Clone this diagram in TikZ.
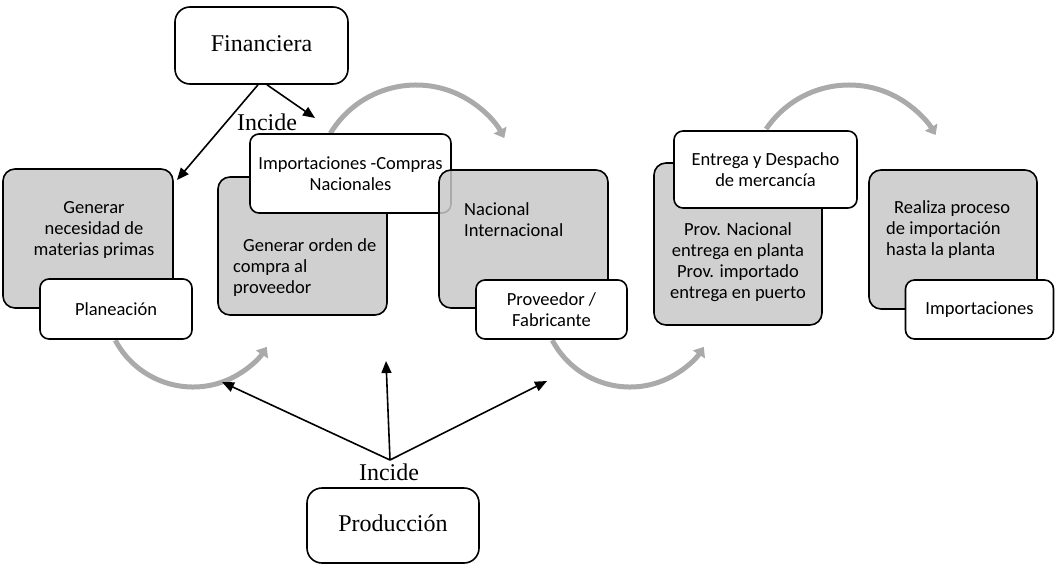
\documentclass[tikz,border=0pt]{standalone}
\usepackage{fontspec}
\setmainfont{Liberation Serif}
\newfontfamily\boxfnt{Carlito}
\usetikzlibrary{arrows.meta}
\definecolor{boxgray}{RGB}{200,200,200}
\definecolor{arcgray}{RGB}{170,170,170}
\newcommand\boxtext{\boxfnt\fontsize{18.5}{21}\selectfont}
\newcommand\seriftext{\fontsize{24}{28}\selectfont}
\tikzset{
  box/.style={draw=black, line width=1.6pt, inner sep=0pt, rounded corners=9pt},
  graybox/.style={box, fill=boxgray, fill opacity=0.85, rounded corners=12pt},
  whitebox/.style={box, fill=white, font=\boxtext, align=center},
  serifbox/.style={box, fill=white, rounded corners=15pt, font=\seriftext},
  btext/.style={font=\boxtext, inner sep=0pt},
  incide/.style={font=\seriftext, inner sep=0pt},
  blk/.style={line width=1.6pt, -{Triangle[length=12pt,width=10pt]}},
  garc/.style={line width=5pt, draw=arcgray, -{Triangle[length=9pt,width=14pt]}},
}
\begin{document}
\begin{tikzpicture}[x=1pt,y=1pt]
\useasboundingbox (0,0) rectangle (1055,-565);

% gray curved arrows
\coordinate (a1c) at (193,-299);
\coordinate (a2c) at (416,-185);
\coordinate (a3c) at (630,-299);
\coordinate (a4c) at (849,-185);
\draw[garc] ([shift={(208:88)}]a1c) arc[start angle=208, end angle=327, radius=88];
\draw[garc] ([shift={(149:100)}]a2c) arc[start angle=149, end angle=28, radius=100];
\draw[garc] ([shift={(208:88)}]a3c) arc[start angle=208, end angle=327, radius=88];
\draw[garc] ([shift={(146:100)}]a4c) arc[start angle=146, end angle=30, radius=100];

% top and bottom boxes
\node[serifbox, minimum width=173pt, minimum height=77pt] (fin) at (261.5,-45.5) {\raisebox{3pt}{Financiera}};
\node[serifbox, minimum width=172pt, minimum height=75pt] (prod) at (393,-525.5) {\raisebox{5pt}{Producción}};

% step 1
\node[graybox, minimum width=170pt, minimum height=139pt] (g1) at (88,-238.5) {};
\node[btext, align=center] (t1) at (94,-229.5) {Generar\\necesidad de\\materias primas};
\node[whitebox, minimum width=152pt, minimum height=60pt] (plan) at (116,-309) {Planeación};

% step 2
\node[graybox, minimum width=169pt, minimum height=138pt] (g2) at (302.5,-246) {};
\node[btext, align=left, anchor=west] (t2) at (233,-268) {\hspace*{10pt}Generar orden de\\compra al\\proveedor};
\node[whitebox, minimum width=201pt, minimum height=79pt] (imp) at (350.5,-173.5) {Importaciones -Compras\\Nacionales};

% step 3
\node[graybox, minimum width=169pt, minimum height=138pt] (g3) at (523.5,-239) {};
\node[btext, align=left, anchor=west] (t3) at (464,-219.5) {Nacional\\Internacional};
\node[whitebox, minimum width=151pt, minimum height=59pt] (prov) at (551.5,-309.5) {Proveedor /\\Fabricante};

% step 4
\node[graybox, minimum width=168pt, minimum height=162pt] (g4) at (738,-244) {};
\node[btext, align=center] (t4) at (738,-262.5) {Prov. Nacional\\entrega en planta\\Prov. importado\\entrega en puerto};
\node[whitebox, minimum width=183pt, minimum height=77pt] (ent) at (765.5,-169.5) {Entrega y Despacho\\de mercancía};

% step 5
\node[graybox, minimum width=168pt, minimum height=139pt] (g5) at (953,-239.5) {};
\node[btext, align=left, anchor=west] (t5) at (886,-230) {\hspace*{8pt}Realiza proceso\\de importación\\hasta la planta};
\node[whitebox, minimum width=148pt, minimum height=59pt] (impo) at (979.5,-309.5) {Importaciones};

% labels
\node[incide] (inc1) at (267,-122) {Incide};
\node[incide] (inc2) at (389,-472) {Incide};

% black arrows
\coordinate (f1tip) at (177,-180);
\coordinate (f2tip) at (315,-118);
\coordinate (porig) at (390,-460);
\coordinate (p1tip) at (222,-382);
\coordinate (p2tip) at (386,-361);
\coordinate (p3tip) at (547,-381);
\draw[blk] ([xshift=-3.5pt]fin.south) -- (f1tip);
\draw[blk] ([xshift=5.5pt]fin.south) -- (f2tip);
\draw[blk] (porig) -- (p1tip);
\draw[blk] (porig) -- (p2tip);
\draw[blk] (porig) -- (p3tip);
\end{tikzpicture}
\end{document}
